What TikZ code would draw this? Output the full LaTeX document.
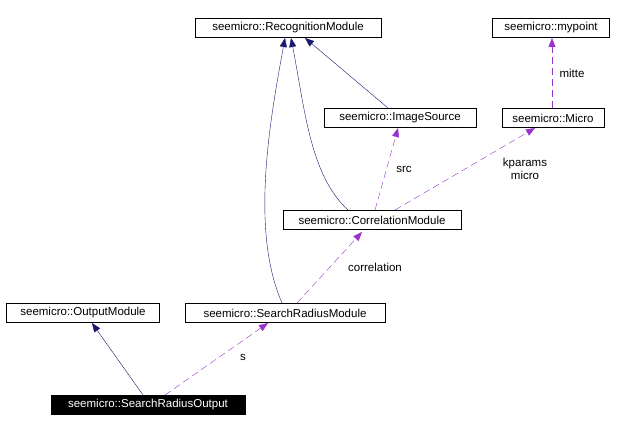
\documentclass[tikz,border=0pt]{standalone}
\usepackage{fontspec}
\setmainfont{Liberation Sans}
\usetikzlibrary{arrows.meta}
\definecolor{navy}{RGB}{25,25,112}
\definecolor{purp}{RGB}{154,50,205}
\begin{document}
\begin{tikzpicture}[x=1pt,y=-1pt,
 box/.style={draw,fill=white,inner sep=0pt,minimum height=19pt,font=\fontsize{11.5}{13}\selectfont},
 inh/.style={draw=navy,-{Triangle[length=9pt,width=7pt,fill=navy]}},
 use/.style={draw=purp,dash pattern=on 7pt off 4pt,-{Triangle[length=9pt,width=7pt,fill=purp]}},
 lab/.style={font=\fontsize{11.5}{13}\selectfont,align=center}]
\useasboundingbox (0,0) rectangle (617,430);
\node[box,minimum width=186pt] (rm) at (288,28) {seemicro::RecognitionModule};
\node[box,minimum width=117pt] (mp) at (551,28) {seemicro::mypoint};
\node[box,minimum width=152pt] (is) at (400,118) {seemicro::ImageSource};
\node[box,minimum width=102pt] (mi) at (553,118) {seemicro::Micro};
\node[box,minimum width=178pt] (cm) at (372,220) {seemicro::CorrelationModule};
\node[box,minimum width=153pt] (om) at (83,313) {seemicro::OutputModule};
\node[box,minimum width=200pt] (sm) at (285,313) {seemicro::SearchRadiusModule};
\node[box,minimum width=194pt,fill=black,text=white] (so) at (148,405) {seemicro::SearchRadiusOutput};
\draw[inh] (388,108) -- (305,38);
\draw[inh] (348,210) .. controls (310,175) and (305,110) .. (291,38);
\draw[inh] (282,303) .. controls (250,230) and (270,120) .. (285,38);
\draw[inh] (143,395) -- (92,323);
\draw[use] (165,395) -- (268,323);
\draw[use] (297,303) -- (362,232);
\draw[use] (375,210) -- (398,128);
\draw[use] (395,210) -- (535,128);
\draw[use] (552,108) -- (552,38);
\node[lab] (l1) at (243,357) {s};
\node[lab] (l2) at (375,267) {correlation};
\node[lab] (l3) at (404,169) {src};
\node[lab] (l4) at (525,169) {kparams\\micro};
\node[lab] (l5) at (572,73) {mitte};
\end{tikzpicture}
\end{document}
